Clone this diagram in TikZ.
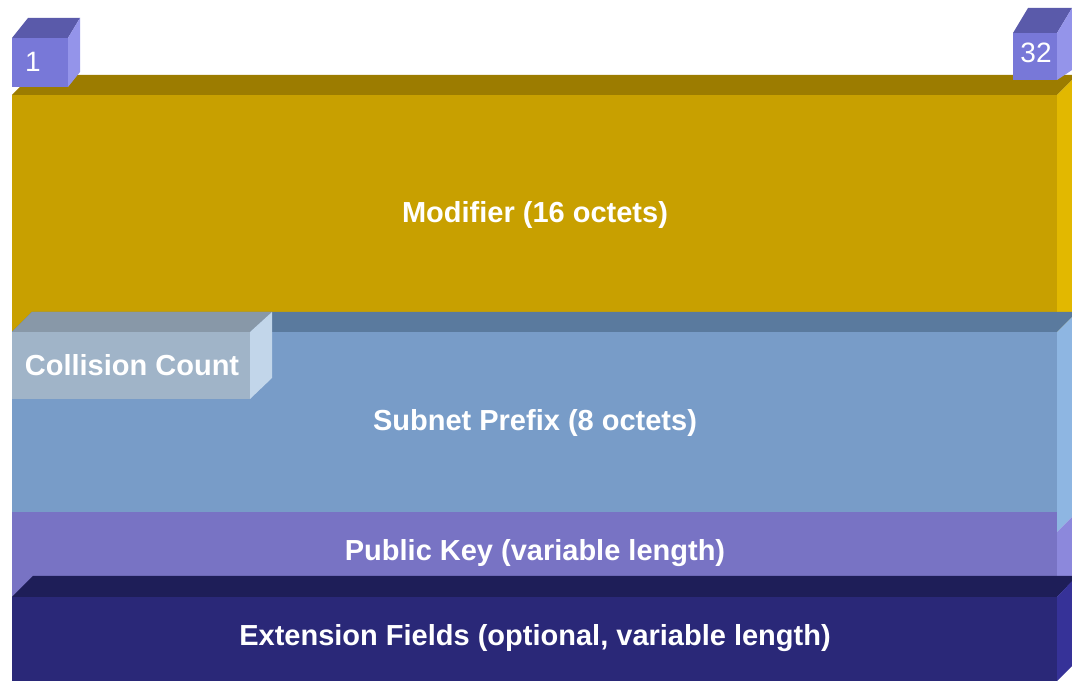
\documentclass[tikz,border=0pt]{standalone}
\usepackage{fontspec}
\setmainfont{Liberation Sans}
\definecolor{goldF}{HTML}{C8A000}
\definecolor{goldT}{HTML}{9C7C00}
\definecolor{goldS}{HTML}{E2B800}
\definecolor{subF}{HTML}{789CC8}
\definecolor{subT}{HTML}{5A7A9E}
\definecolor{subS}{HTML}{8EB6E2}
\definecolor{colF}{HTML}{A0B4C8}
\definecolor{colT}{HTML}{8898A8}
\definecolor{colS}{HTML}{C2D6EA}
\definecolor{pkF}{HTML}{7873C4}
\definecolor{pkS}{HTML}{8C88DC}
\definecolor{extF}{HTML}{2A2878}
\definecolor{extT}{HTML}{1E1E58}
\definecolor{extS}{HTML}{363298}
\definecolor{cubeF}{HTML}{7878D8}
\definecolor{cubeT}{HTML}{5A5AAA}
\definecolor{cubeS}{HTML}{9494EA}
\tikzset{
  lbl/.style={text=white, font=\fontsize{29}{32}\selectfont\bfseries, inner sep=0pt},
  numlbl/.style={text=white, font=\fontsize{28}{30}\selectfont, inner sep=0pt}
}
\begin{document}
\begin{tikzpicture}[x=1pt,y=-1pt]
\useasboundingbox (0,0) rectangle (1072,684);
\fill[white] (0,0) rectangle (1072,684);
% Modifier block
\fill[goldT] (12,95) -- (32,75) -- (1077,75) -- (1057,95) -- cycle;
\fill[goldF] (12,95) rectangle (1057,332);
\fill[goldS] (1057,95) -- (1077,75) -- (1077,312) -- (1057,332) -- cycle;
\node[lbl] (mod) at (535,215) {Modifier (16 octets)};
% Subnet prefix block
\fill[subT] (12,332) -- (32,312) -- (1077,312) -- (1057,332) -- cycle;
\fill[subF] (12,332) rectangle (1057,597);
\fill[subS] (1057,332) -- (1077,312) -- (1077,512) -- (1057,532) -- cycle;
\node[lbl] (sub) at (535,423) {Subnet Prefix (8 octets)};
% Collision count
\fill[colT] (12,332) -- (32,312) -- (272,312) -- (250,332) -- cycle;
\fill[colF] (12,332) rectangle (250,399);
\fill[colS] (250,332) -- (272,312) -- (272,378) -- (250,399) -- cycle;
\node[lbl] (cc) at (132,365) {Collision Count};
% Public key block
\fill[pkF] (12,512) rectangle (1057,597);
\fill[pkS] (1057,532) -- (1077,512) -- (1077,577) -- (1057,597) -- cycle;
\node[lbl] (pk) at (535,553) {Public Key (variable length)};
% Extension fields block
\fill[extT] (12,597) -- (33,576) -- (1077,576) -- (1057,597) -- cycle;
\fill[extF] (12,597) rectangle (1057,681);
\fill[extS] (1057,597) -- (1077,576) -- (1077,661) -- (1057,681) -- cycle;
\node[lbl] (ext) at (535,638) {Extension Fields (optional, variable length)};
% Cube 1
\fill[cubeT] (12,38) -- (28,18) -- (80,18) -- (68,38) -- cycle;
\fill[cubeF] (12,38) rectangle (68,87);
\fill[cubeS] (68,38) -- (80,18) -- (80,72) -- (68,87) -- cycle;
\node[numlbl] (one) at (33,62) {1};
% Cube 32
\fill[cubeT] (1013,33) -- (1028,8) -- (1072,8) -- (1057,33) -- cycle;
\fill[cubeF] (1013,33) rectangle (1057,80);
\fill[cubeS] (1057,33) -- (1072,8) -- (1072,70) -- (1057,80) -- cycle;
\node[numlbl] (tt) at (1036,53) {32};
\end{tikzpicture}
\end{document}
